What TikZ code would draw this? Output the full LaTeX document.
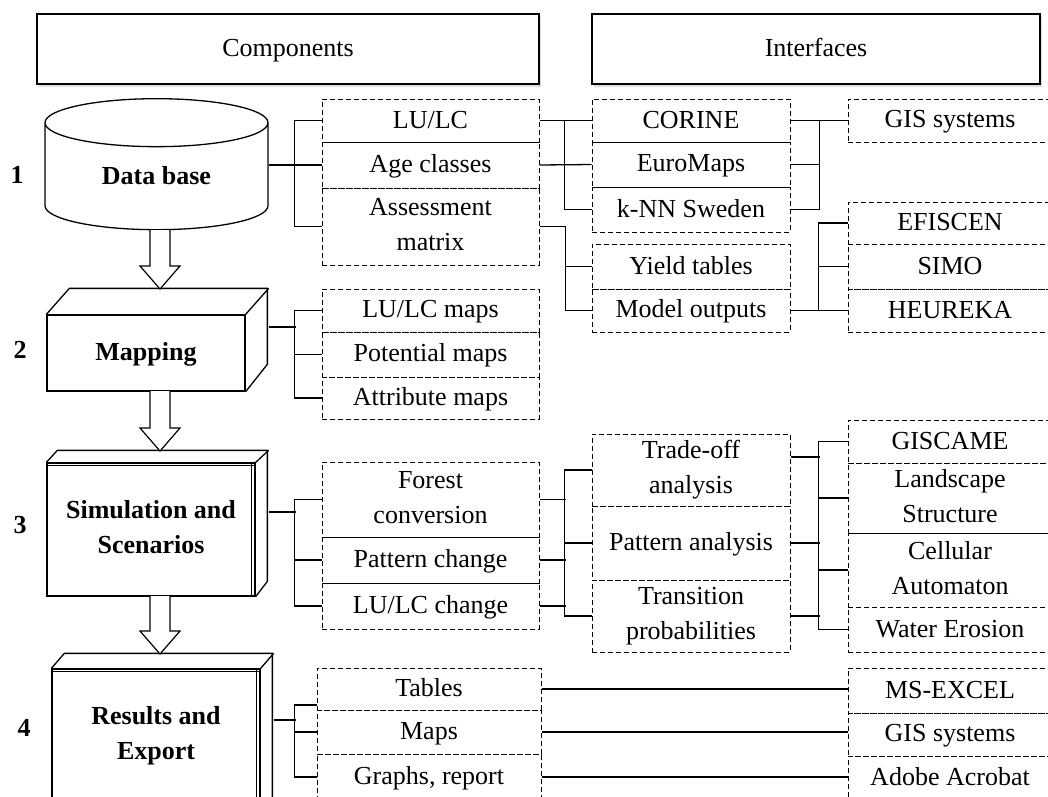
\documentclass[tikz,border=0pt]{standalone}
\usepackage{fontspec}
\setmainfont{Liberation Serif}
\usetikzlibrary{shapes.geometric,shadows,calc}

\newcommand{\hollowarrow}[2]{%
  \draw[line width=1.2pt, fill=white] ($(#1)+(-10,0)$) -- ($(#2)+(-10,-23)$)
    -- ($(#2)+(-20,-23)$) -- (#2) -- ($(#2)+(20,-23)$) -- ($(#2)+(10,-23)$)
    -- ($(#1)+(10,0)$);}

\begin{document}
\begin{tikzpicture}[x=1pt, y=-1pt]
  \useasboundingbox (0,0) rectangle (1048,796);
  \clip (0,0) rectangle (1048,796);

  \tikzstyle{txt}=[font=\fontsize{26}{35}\selectfont, execute at begin node={\rule[-5pt]{0pt}{25pt}}, execute at end node={\rule[-5pt]{0pt}{25pt}}]
  \tikzstyle{two}=[execute at begin node={\rule[-4pt]{0pt}{30pt}}, execute at end node={\rule[-4pt]{0pt}{30pt}}]
  \tikzstyle{head}=[txt, draw, line width=1.3pt, fill=white, minimum height=70pt, inner sep=0pt, drop shadow={shadow xshift=2pt, shadow yshift=-3pt, opacity=0.25}]
  \tikzstyle{stage}=[txt, draw, line width=1.3pt, fill=white, align=center, inner sep=0pt, font=\fontsize{26}{35}\selectfont\bfseries]
  \tikzstyle{num}=[font=\fontsize{26}{35}\selectfont\bfseries]
  \tikzstyle{cell}=[txt, draw, line width=1pt, dash pattern=on 5pt off 3pt, inner sep=0pt, align=center]
  \tikzstyle{c1}=[cell, minimum width=217pt]
  \tikzstyle{c2}=[cell, minimum width=198pt]
  \tikzstyle{c3}=[cell, minimum width=204pt]
  \tikzstyle{link}=[line width=1.3pt]
  \tikzstyle{edge3d}=[line width=1.3pt]

  % headers
  \node[head, minimum width=502pt] (comp) at (288,49) {Components};
  \node[head, minimum width=448pt] (intf) at (816,49) {Interfaces};

  % stages
  \node[stage, cylinder, shape border rotate=90, aspect=0.44, minimum height=131pt, minimum width=223pt] (db) at (156.5,176.5) {Data base};
  \node[stage, minimum width=198pt, minimum height=76pt] (map) at (146,353) {Mapping};
  \node[stage, two, minimum width=208pt, minimum height=133pt] (sim) at (151,529.5) {Simulation and\\Scenarios};
  \node[stage, two, minimum width=208pt, minimum height=134pt] (res) at (156,736) {Results and\\Export};

  \draw[edge3d] (map.north west) -- ++(23,-26) -- ++(198,0) -- ++(0,76) -- (map.south east);
  \draw[edge3d] (map.north east) -- ++(23,-26);
  \draw[edge3d] (sim.north west) -- ++(11,-12) -- ++(210,0) -- ++(0,131) -- (sim.south east);
  \draw[edge3d] (sim.north east) -- ++(13,-12);
  \draw[line width=1pt] ([xshift=-4pt]sim.north east) -- ([xshift=-4pt]sim.south east);
  \draw[line width=1pt] ([yshift=-3pt]sim.north west) -- ([yshift=-3pt]sim.north east);
  \draw[edge3d] (res.north west) -- ++(13,-15) -- ++(208,0) -- ++(0,160) -- (res.south east);
  \draw[edge3d] (res.north east) -- ++(13,-15);
  \draw[line width=1pt] ([xshift=-4pt]res.north east) -- ([xshift=-4pt]res.south east);
  \draw[line width=1pt] ([yshift=-3pt]res.north west) -- ([yshift=-3pt]res.north east);

  \node[num] (n1) at (17,175) {1};
  \node[num] (n2) at (20,350) {2};
  \node[num] (n3) at (20,525) {3};
  \node[num] (n4) at (24,728) {4};

  % arrows between stages
  \coordinate (a1s) at (160,230);
  \coordinate (a1t) at (160,289);
  \coordinate (a2s) at (160,391);
  \coordinate (a2t) at (160,451);
  \coordinate (a3s) at (160,596);
  \coordinate (a3t) at (160,654);
  \hollowarrow{a1s}{a1t}
  \hollowarrow{a2s}{a2t}
  \hollowarrow{a3s}{a3t}

  % components
  \node[c1, minimum height=43pt] (lulc) at (430.5,120.5) {LU/LC};
  \node[c1, minimum height=46pt] (age) at (430.5,165) {Age classes};
  \node[c1, two, minimum height=77pt] (assess) at (430.5,226.5) {Assessment\\matrix};

  \node[c1, minimum height=43pt] (lulcmaps) at (430.5,310.5) {LU/LC maps};
  \node[c1, minimum height=45pt] (potmaps) at (430.5,354.5) {Potential maps};
  \node[c1, minimum height=42pt] (attrmaps) at (430.5,398) {Attribute maps};

  \node[c1, two, minimum height=75pt] (forest) at (430.5,499.5) {Forest\\conversion};
  \node[c1, minimum height=46pt] (pattern) at (430.5,560) {Pattern change};
  \node[c1, minimum height=46pt] (lulcchg) at (430.5,606) {LU/LC change};

  \node[cell, minimum width=224pt, minimum height=42pt] (tables) at (429,689) {Tables};
  \node[cell, minimum width=224pt, minimum height=44pt] (maps) at (429,732) {Maps};
  \node[cell, minimum width=224pt, minimum height=46pt] (graphs) at (429,777) {Graphs, report};

  % interfaces
  \node[c2, minimum height=43pt] (corine) at (691,120.5) {CORINE};
  \node[c2, minimum height=45pt] (euromaps) at (691,164.5) {EuroMaps};
  \node[c2, minimum height=45pt] (knn) at (691,209.5) {k-NN Sweden};
  \node[c2, minimum height=45pt] (yield) at (691,266.5) {Yield tables};
  \node[c2, minimum height=43pt] (model) at (691,310.5) {Model outputs};
  \node[c2, two, minimum height=72pt] (tradeoff) at (691,470) {Trade-off\\analysis};
  \node[c2, minimum height=74pt] (patana) at (691,543) {Pattern analysis};
  \node[c2, two, minimum height=72pt] (trans) at (691,616) {Transition\\probabilities};

  \node[c3, minimum height=43pt] (gisa) at (950,120.5) {GIS systems};
  \node[c3, minimum height=42pt] (efiscen) at (950,223) {EFISCEN};
  \node[c3, minimum height=45pt] (simo) at (950,266.5) {SIMO};
  \node[c3, minimum height=43pt] (heureka) at (950,310.5) {HEUREKA};
  \node[c3, minimum height=43pt] (giscame) at (950,441.5) {GISCAME};
  \node[c3, two, minimum height=70pt] (landscape) at (950,498) {Landscape\\Structure};
  \node[c3, two, minimum height=74pt] (cellular) at (950,570) {Cellular\\Automaton};
  \node[c3, minimum height=45pt] (water) at (950,629.5) {Water Erosion};
  \node[c3, minimum height=45pt] (excel) at (950,690.5) {MS-EXCEL};
  \node[c3, minimum height=43pt] (gisb) at (950,734.5) {GIS systems};
  \node[c3, minimum height=44pt] (adobe) at (950,778) {Adobe Acrobat};

  % stage -> components
  \draw[link] (age.west) -- (age.west -| db.east);
  \draw[link] (lulc.west) -- ++(-27,0) |- (assess.west);
  \draw[link] ([shift={(23,-26)}]map.east) -- ++(27,0);
  \draw[link] (lulcmaps.west) -- ++(-27,0) |- (attrmaps.west);
  \draw[link] (potmaps.west) -- ++(-27,0);
  \draw[link] ([shift={(13,-17.5)}]sim.east) -- ++(27,0);
  \draw[link] (forest.west) -- ++(-27,0) |- (lulcchg.west);
  \draw[link] (pattern.west) -- ++(-27,0);
  \draw[link] ([shift={(13,-16)}]res.east) -- ++(22,0);
  \draw[link] ([yshift=-16pt]tables.west) -- ++(-22,0) |- (graphs.west);
  \draw[link] (maps.west) -- ++(-22,0);

  % components -> interfaces
  \draw[link] (lulc.east) -- (corine.west);
  \draw[link] (age.east) -- (euromaps.west);
  \draw[link] (corine.west) -- ++(-27,0) |- (knn.west);
  \draw[link] (assess.east) -- ++(26,0) |- (model.west);
  \draw[link] (yield.west) -- ++(-27,0);
  \draw[link] (forest.east) -- ++(26,0);
  \draw[link] (pattern.east) -- ++(26,0);
  \draw[link] (lulcchg.east) -- ++(26,0);
  \draw[link] (tradeoff.west) -- ++(-27,0) |- (trans.west);
  \draw[link] (patana.west) -- ++(-27,0);
  \draw[link] (tables.east) -- (tables.east -| excel.west);
  \draw[link] (maps.east) -- (maps.east -| gisb.west);
  \draw[link] (graphs.east) -- (graphs.east -| adobe.west);

  % interfaces -> tools
  \draw[link] (corine.east) -- (gisa.west);
  \draw[link] (euromaps.east) -- ++(29,0);
  \draw[link] (knn.east) -- ++(29,0) |- (gisa.west);
  \draw[link] (model.east) -- (heureka.west);
  \draw[link] (heureka.west) -- ++(-29,0) |- (efiscen.west);
  \draw[link] (simo.west) -- ++(-29,0);
  \draw[link] ([yshift=13pt]tradeoff.east) -- ++(29,0);
  \draw[link] (patana.east) -- ++(29,0);
  \draw[link] (trans.east) -- ++(29,0);
  \draw[link] (giscame.west) -- ++(-29,0) |- (water.west);
  \draw[link] (landscape.west) -- ++(-29,0);
  \draw[link] (cellular.west) -- ++(-29,0);
\end{tikzpicture}
\end{document}
